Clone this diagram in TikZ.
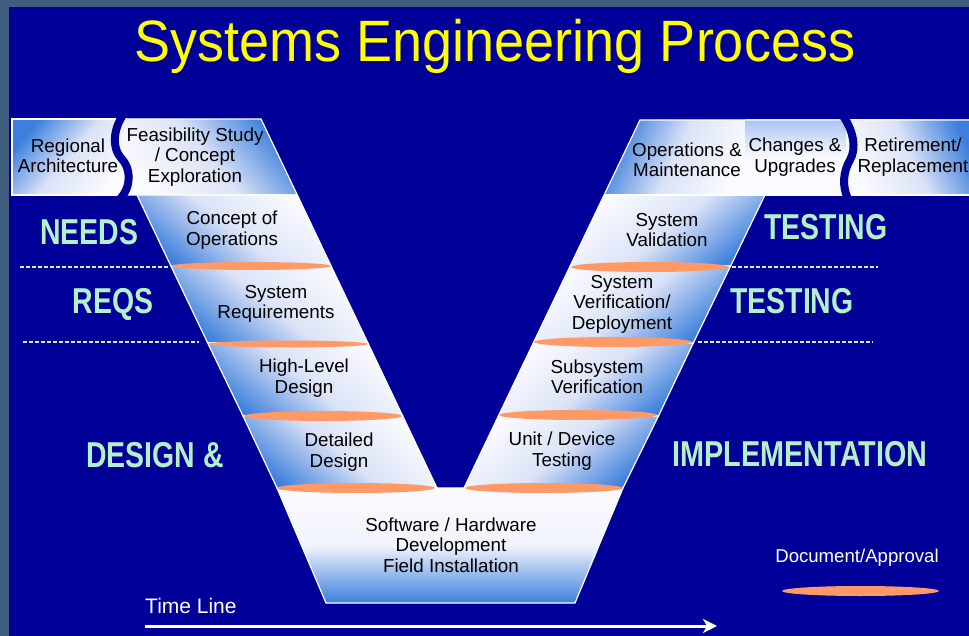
\documentclass[tikz,border=0pt]{standalone}
\usepackage{fontspec}
\setmainfont{Liberation Sans}
\usetikzlibrary{arrows.meta}

\definecolor{framegray}{HTML}{3F5D7D}
\definecolor{navy}{HTML}{000099}
\definecolor{vblue}{HTML}{3C7FDC}
\definecolor{vmid}{HTML}{DCE3F7}
\definecolor{vwhite}{HTML}{FAFBFF}
\definecolor{paleblue}{HTML}{A9C5F5}
\definecolor{salmon}{HTML}{FF9966}
\definecolor{mint}{HTML}{B4F0C8}
\definecolor{dotmint}{HTML}{CDF3DA}
\definecolor{titleyellow}{HTML}{FFFF00}

\tikzset{
  edge/.style={draw=white, line width=1.2pt},
  lband/.style={edge, top color=vwhite, bottom color=vblue, middle color=vmid, shading angle=-40},
  rband/.style={edge, top color=vwhite, bottom color=vblue, middle color=vmid, shading angle=40},
  vband/.style={edge, top color=vwhite, bottom color=vblue, middle color=vwhite!70!vmid},
  regshade/.style={top color=vblue, bottom color=vwhite, middle color=vmid, shading angle=50},
  feasshade/.style={top color=vblue, bottom color=vwhite, middle color=vmid, shading angle=-50},
  opsshade/.style={top color=vblue, bottom color=vwhite, middle color=vmid, shading angle=65},
  chgshade/.style={top color=paleblue, bottom color=vwhite, middle color=vwhite},
  retshade/.style={top color=vblue, bottom color=vwhite, middle color=vmid, shading angle=-65},
  gap/.style={draw=navy, line width=8pt},
  doc/.style={fill=salmon},
  bandtext/.style={font=\fontsize{18.8}{20.5}\selectfont, align=center, text=black, inner sep=0pt},
  phase/.style={font=\fontsize{36}{36}\selectfont\bfseries, text=mint, inner sep=0pt},
  divider/.style={draw=dotmint, line width=2.6pt, dash pattern=on 4pt off 2pt},
}

\begin{document}
\begin{tikzpicture}[x=1pt,y=-1pt]
\useasboundingbox (0,0) rectangle (969,636);
\fill[framegray] (0,0) rectangle (969,636);
\fill[navy] (9,7) rectangle (969,636);

% corner points of the V
\coordinate (Lti) at (261,119);
\coordinate (L0o) at (137,195);   \coordinate (L0i) at (297.3,195);
\coordinate (L1o) at (170.9,266); \coordinate (L1i) at (331.1,266);
\coordinate (L2o) at (207.7,343); \coordinate (L2i) at (367.9,343);
\coordinate (L3o) at (243,416);   \coordinate (L3i) at (402.7,416);
\coordinate (L4o) at (277,488);   \coordinate (L4i) at (437,488);
\coordinate (Rti) at (640,120);
\coordinate (R0o) at (765,195);   \coordinate (R0i) at (604.1,195);
\coordinate (R1o) at (730.6,266); \coordinate (R1i) at (570.2,266);
\coordinate (R2o) at (693.3,343); \coordinate (R2i) at (533.3,343);
\coordinate (R3o) at (658.5,416); \coordinate (R3i) at (498.4,416);
\coordinate (R4o) at (623,488);   \coordinate (R4i) at (464,488);
\coordinate (B1) at (326,603);    \coordinate (B2) at (575,603);

% title
\node[font=\fontsize{54}{54}\selectfont, text=titleyellow, anchor=base] (title) at (495,62)
  {\scalebox{1}[1.08]{Systems Engineering Process}};

% upper left boxes
\shade[regshade] (12,119) rectangle (127,195);
\shade[feasshade] (119,119) -- (Lti) -- (L0i) -- (119,195) -- cycle;
\draw[edge] (127,119) -- (12,119) -- (12,195) -- (127,195);
\draw[edge] (119,119) -- (Lti) -- (L0i) -- (119,195);
\draw[gap] (123,115) .. controls (113,130) and (112,148) .. (121,158)
           .. controls (131,168) and (132,186) .. (120,199);

% left arm
\path[lband] (L0o) -- (L0i) -- (L1i) -- (L1o) -- cycle;
\path[lband] (L1o) -- (L1i) -- (L2i) -- (L2o) -- cycle;
\path[lband] (L2o) -- (L2i) -- (L3i) -- (L3o) -- cycle;
\path[lband] (L3o) -- (L3i) -- (L4i) -- (L4o) -- cycle;

% right arm
\path[rband] (R0i) -- (R0o) -- (R1o) -- (R1i) -- cycle;
\path[rband] (R1i) -- (R1o) -- (R2o) -- (R2i) -- cycle;
\path[rband] (R2i) -- (R2o) -- (R3o) -- (R3i) -- cycle;
\path[rband] (R3i) -- (R3o) -- (R4o) -- (R4i) -- cycle;

% base of the V
\path[vband] (L4o) -- (R4o) -- (B2) -- (B1) -- cycle;

% upper right boxes
\shade[opsshade] (Rti) -- (746,120) -- (746,195) -- (R0i) -- cycle;
\shade[chgshade] (745,120) rectangle (850,195);
\shade[retshade] (846,120) rectangle (975,195);
\draw[edge] (R0i) -- (Rti) -- (975,120);
\draw[edge] (R0i) -- (975,195);
\draw[gap] (843,116) .. controls (853,130) and (857,148) .. (850,160)
           .. controls (843,172) and (842,186) .. (848,199);

% document / approval marks
\fill[doc] (251,266) ellipse [x radius=80pt, y radius=4pt];
\fill[doc] (288,344) ellipse [x radius=80pt, y radius=3.5pt];
\fill[doc] (323,416) ellipse [x radius=79pt, y radius=5pt];
\fill[doc] (356,488) ellipse [x radius=79pt, y radius=5pt];
\fill[doc] (650,267) ellipse [x radius=79pt, y radius=5pt];
\fill[doc] (613,342) ellipse [x radius=79pt, y radius=5pt];
\fill[doc] (578,415) ellipse [x radius=79pt, y radius=5pt];
\fill[doc] (544,488) ellipse [x radius=79pt, y radius=5pt];

% band texts
\node[bandtext] (regional) at (68,156) {Regional\\Architecture};
\node[bandtext] (feas) at (195,157) {Feasibility Study\\/ Concept\\Exploration};
\node[bandtext] (conops) at (232,230) {Concept of\\Operations};
\node[bandtext] (sysreq) at (276,304) {System\\Requirements};
\node[bandtext] (hld) at (304,378) {High-Level\\Design};
\node[bandtext] (dd) at (339,452) {Detailed\\Design};
\node[bandtext] (dev) at (451,545) {Software / Hardware\\Development\\Field Installation};
\node[bandtext] (unit) at (562,451) {Unit / Device\\Testing};
\node[bandtext] (subsys) at (597,377) {Subsystem\\Verification};
\node[bandtext] (sysver) at (622,304) {System\\Verification/\\Deployment};
\node[bandtext] (sysval) at (667,230) {System\\Validation};
\node[bandtext] (ops) at (687,160) {Operations \&\\Maintenance};
\node[bandtext] (chg) at (795,157) {Changes \&\\Upgrades};
\node[bandtext] (ret) at (913,157) {Retirement/\\Replacement};

% phase labels
\node[phase] (needs) at (89,232) {\scalebox{0.79}[1]{NEEDS}};
\node[phase] (reqs) at (113,304) {\scalebox{0.79}[1]{REQS}};
\node[phase] (design) at (155,455) {\scalebox{0.79}[1]{DESIGN \&}};
\node[phase] (test1) at (826,227) {\scalebox{0.79}[1]{TESTING}};
\node[phase] (test2) at (792,301) {\scalebox{0.79}[1]{TESTING}};
\node[phase] (impl) at (800,454) {\scalebox{0.8}[1]{IMPLEMENTATION}};

% dotted dividers
\draw[divider] (20,267) -- (168,267);
\draw[divider] (23,342) -- (199,342);
\draw[divider] (732,267) -- (878,267);
\draw[divider] (698,342) -- (873,342);

% legend
\node[font=\fontsize{18.6}{20}\selectfont, text=white] (legend) at (857,558) {Document/Approval};
\fill[doc] (860.5,591) ellipse [x radius=78.5pt, y radius=5pt];

% time line
\node[font=\fontsize{21}{22}\selectfont, text=white, anchor=base west, inner sep=0pt] (timelbl) at (145,613) {Time Line};
\coordinate (t0) at (145,626);
\coordinate (t1) at (717,626);
\draw[white, line width=3pt, -{Stealth[length=14pt,width=14pt,inset=4pt]}] (t0) -- (t1);
\end{tikzpicture}
\end{document}
